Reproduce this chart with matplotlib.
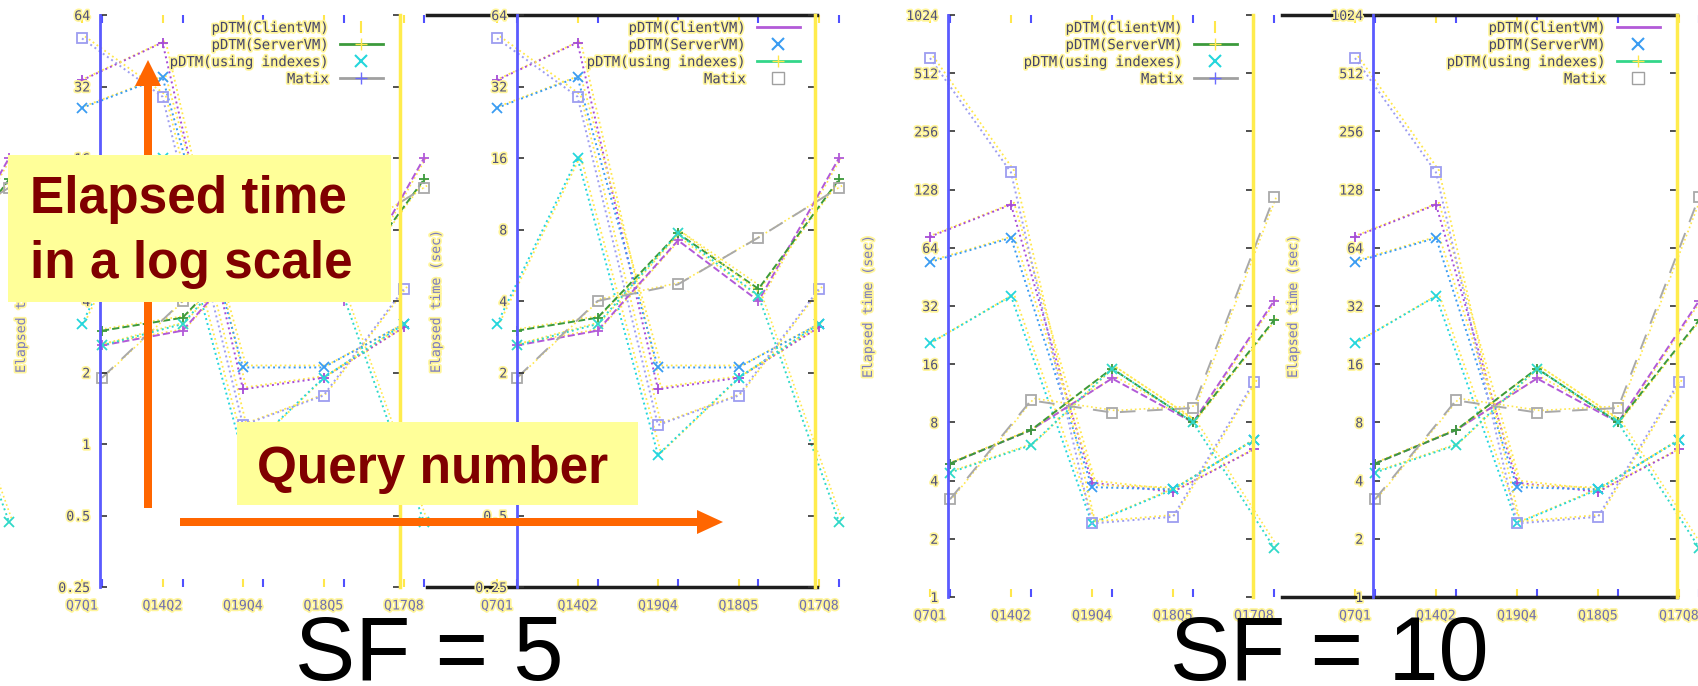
import numpy as np
import matplotlib
matplotlib.use("Agg")
import matplotlib.pyplot as plt
import matplotlib.patheffects as pe
from matplotlib.lines import Line2D
from matplotlib.patches import Rectangle, FancyArrow
from matplotlib.ticker import NullLocator
from matplotlib.transforms import offset_copy

plt.rcParams['font.family'] = 'DejaVu Sans Mono'

W, H = 1699, 686

# query pairs on the x axis and the four systems
queries = ["Q7Q1", "Q14Q2", "Q19Q4", "Q18Q5", "Q17Q8"]
series = ["pDTM(ClientVM)", "pDTM(ServerVM)", "pDTM(using indexes)", "Matix"]

# elapsed time (sec), SF = 5, first and second run
sf5_run1_client = [34, 49, 1.7, 1.9, 3.1]
sf5_run1_server = [26, 35, 2.1, 2.1, 3.2]
sf5_run1_index = [3.2, 16, 0.9, 1.9, 3.2]
sf5_run1_matix = [51, 29, 1.2, 1.6, 4.5]
sf5_run2_client = [2.6, 3.0, 7.2, 4.0, 16]
sf5_run2_server = [3.0, 3.4, 7.7, 4.5, 13]
sf5_run2_index = [2.6, 3.2, 7.7, 4.2, 0.47]
sf5_run2_matix = [1.9, 4.0, 4.7, 7.4, 12]

# elapsed time (sec), SF = 10, first and second run
sf10_run1_client = [73, 107, 3.9, 3.5, 5.8]
sf10_run1_server = [54, 72, 3.7, 3.6, 6.5]
sf10_run1_index = [20.5, 36, 2.4, 3.6, 6.5]
sf10_run1_matix = [613, 157, 2.4, 2.6, 13]
sf10_run2_client = [4.9, 7.3, 13.5, 8.0, 34]
sf10_run2_server = [4.9, 7.3, 15.2, 8.0, 27]
sf10_run2_index = [4.4, 6.1, 15.2, 8.0, 1.8]
sf10_run2_matix = [3.2, 10.4, 9.0, 9.5, 117]

sf5_ticks = [0.25, 0.5, 1, 2, 4, 8, 16, 32, 64]
sf10_ticks = [1, 2, 4, 8, 16, 32, 64, 128, 256, 512, 1024]

YELLOW = '#ffe74a'
halo = [pe.withStroke(linewidth=2.5, foreground='#fff59a')]

run1_styles = [
    dict(color='#a64bd6', ls=':', marker='+'),
    dict(color='#3a9cf2', ls=':', marker='x'),
    dict(color='#24d6dc', ls=':', marker='x'),
    dict(color='#9d9df0', ls=':', marker='s', mfc='none'),
]
run2_styles = [
    dict(color='#b25ad8', ls='--', marker='+'),
    dict(color='#3c9a3c', ls='--', marker='+'),
    dict(color='#2fd9c8', ls=':', marker='x'),
    dict(color='#a9a9a9', ls=(0, (8, 6)), marker='s', mfc='none'),
]


def frac_rect(left, top, right, bottom):
    return [left / W, 1 - bottom / H, (right - left) / W, (bottom - top) / H]


fig = plt.figure(figsize=(W / 100, H / 100), dpi=100)


def draw_strip(box, ylim, first_px, step_px, period_px, run1, run2, black_px):
    left, top, right, bottom = box
    ax = fig.add_axes(frac_rect(*box))
    ax.patch.set_alpha(0)
    ax.set_yscale('log', base=2)
    ax.set_ylim(*ylim)
    ax.set_xlim((left - first_px) / step_px, (right - first_px) / step_px)
    for sp in ax.spines.values():
        sp.set_visible(False)
    ax.yaxis.set_minor_locator(NullLocator())
    ax.tick_params(axis='y', which='both', left=False, labelleft=False)

    shift = period_px / step_px
    run_off = 20 / step_px
    x = np.arange(len(queries))
    ghost = offset_copy(ax.transData, fig=fig, x=3, y=2, units='dots')
    # the chart repeats every period, so draw three copies across the strip
    for k in (-1, 0, 1):
        for vals, st in zip(run1, run1_styles):
            ax.plot(x + k * shift, vals, color=YELLOW, ls=':', lw=1.3, transform=ghost)
            ax.plot(x + k * shift, vals, lw=1.4, ms=7, mew=1.3, **st)
        for vals, st in zip(run2, run2_styles):
            ax.plot(x + k * shift + run_off, vals, color=YELLOW, ls=':', lw=1.2, transform=ghost)
            ax.plot(x + k * shift + run_off, vals, lw=1.4, ms=7, mew=1.3, **st)

    main = [k * shift + i for k in (0, 1) for i in range(len(queries))]
    ax.set_xticks(main, queries * 2)
    ax.set_xticks([t + run_off for t in main], minor=True)
    ax.tick_params(axis='x', which='major', direction='in', top=True, bottom=True,
                   length=6, width=1.5, color=YELLOW, labelsize=9.5,
                   labelcolor='#6f6fb0', pad=9)
    ax.tick_params(axis='x', which='minor', direction='in', top=True, bottom=True,
                   length=6, width=1.5, color='#5050ff')
    for t in ax.get_xticklabels():
        t.set_path_effects(halo)

    # black top / bottom border of the right-hand chart
    x0 = (black_px[0] - left) / (right - left)
    x1 = (black_px[1] - left) / (right - left)
    for yv in ylim:
        ax.axhline(yv, x0, x1, color='#1e1e1e', lw=2.5, clip_on=False)
    return ax


def legend_handles(kind):
    if kind == 'a':
        return [
            Line2D([], [], ls='none', marker='|', ms=9, mew=1.5, color=YELLOW),
            Line2D([], [], color='#3c9a3c', lw=2, marker='+', ms=8, mec=YELLOW),
            Line2D([], [], ls='none', marker='x', ms=8, mew=1.5, color='#24d6dc'),
            Line2D([], [], color='#a0a0a0', lw=2, marker='+', ms=8, mec='#6b6bff'),
        ]
    return [
        Line2D([], [], color='#b25ad8', lw=2),
        Line2D([], [], ls='none', marker='x', ms=8, mew=1.5, color='#3a9cf2'),
        Line2D([], [], color='#33d68a', lw=2, marker='+', ms=8, mec=YELLOW),
        Line2D([], [], ls='none', marker='s', ms=8, mfc='none', color='#a0a0a0'),
    ]


def draw_frame(box, ylim, yticks, kind, legend_right_px, label_x_px):
    left, top, right, bottom = box
    fx = fig.add_axes(frac_rect(*box))
    fx.patch.set_alpha(0)
    fx.set_yscale('log', base=2)
    fx.set_ylim(*ylim)
    fx.set_yticks(yticks, [f'{v:g}' for v in yticks])
    fx.yaxis.set_minor_locator(NullLocator())
    fx.set_xticks([])
    fx.spines['left'].set_color('#5b5bff')
    fx.spines['left'].set_linewidth(2)
    fx.spines['right'].set_color('#ffec4d')
    fx.spines['right'].set_linewidth(2.5)
    fx.spines['top'].set_visible(False)
    fx.spines['bottom'].set_visible(False)
    fx.tick_params(axis='y', direction='in', left=True, right=True, length=5,
                   width=1.2, color='#333333', labelsize=9.5,
                   labelcolor='#50507a', pad=7)
    for t in fx.get_yticklabels():
        t.set_path_effects(halo)
    fx.set_ylabel('Elapsed time (sec)', fontsize=9.5, color='#7a7ac0',
                  path_effects=halo)
    fx.yaxis.set_label_coords((label_x_px - left) / (right - left), 0.5)

    leg = fx.legend(legend_handles(kind), series, loc='upper right',
                    bbox_to_anchor=((legend_right_px - left) / (right - left),
                                    1 - 6 / (bottom - top)),
                    markerfirst=False, frameon=False, fontsize=10,
                    handlelength=3.1, handletextpad=0.8, labelspacing=0.22,
                    borderpad=0, borderaxespad=0)
    for t in leg.get_texts():
        t.set_color('#44446a')
        t.set_path_effects(halo)
    return fx


# SF = 5
draw_strip((0, 15, 845, 587), (0.25, 64), 82, 80.5, 415,
           [sf5_run1_client, sf5_run1_server, sf5_run1_index, sf5_run1_matix],
           [sf5_run2_client, sf5_run2_server, sf5_run2_index, sf5_run2_matix],
           (427, 817))
draw_frame((100, 15, 400, 587), (0.25, 64), sf5_ticks, 'a', 383, 28)
draw_frame((517, 15, 815, 587), (0.25, 64), sf5_ticks, 'b', 800, 443)

# SF = 10
draw_strip((857, 15, 1699, 597), (1, 1024), 930, 81, 425,
           [sf10_run1_client, sf10_run1_server, sf10_run1_index, sf10_run1_matix],
           [sf10_run2_client, sf10_run2_server, sf10_run2_index, sf10_run2_matix],
           (1282, 1677))
draw_frame((948, 15, 1253, 597), (1, 1024), sf10_ticks, 'a', 1237, 875)
draw_frame((1373, 15, 1677, 597), (1, 1024), sf10_ticks, 'b', 1660, 1300)

# callouts on top of the charts
ov = fig.add_axes([0, 0, 1, 1])
ov.set_xlim(0, W)
ov.set_ylim(H, 0)
ov.axis('off')
ov.patch.set_alpha(0)

ORANGE = '#ff6600'
ov.add_patch(FancyArrow(148, 508, 0, -448, width=8, head_width=26, head_length=26,
                        length_includes_head=True, color=ORANGE, lw=0))
ov.add_patch(FancyArrow(180, 522, 543, 0, width=8, head_width=24, head_length=26,
                        length_includes_head=True, color=ORANGE, lw=0))

ov.add_patch(Rectangle((8, 155), 383, 147, facecolor='#ffff99', edgecolor='none'))
ov.add_patch(Rectangle((237, 422), 401, 83, facecolor='#ffff99', edgecolor='none'))

note = dict(family='Liberation Sans', fontweight='bold', fontsize=37,
            color='#800000', va='baseline', ha='left')
ov.text(30, 213, 'Elapsed time', **note)
ov.text(30, 278, 'in a log scale', **note)
ov.text(257, 483, 'Query number', **note)

big = dict(family='Liberation Sans', fontsize=65, color='black', va='baseline', ha='left')
ov.text(295, 680, 'SF = 5', **big)
ov.text(1170, 680, 'SF = 10', **big)

fig.savefig('out.png', dpi=100)
